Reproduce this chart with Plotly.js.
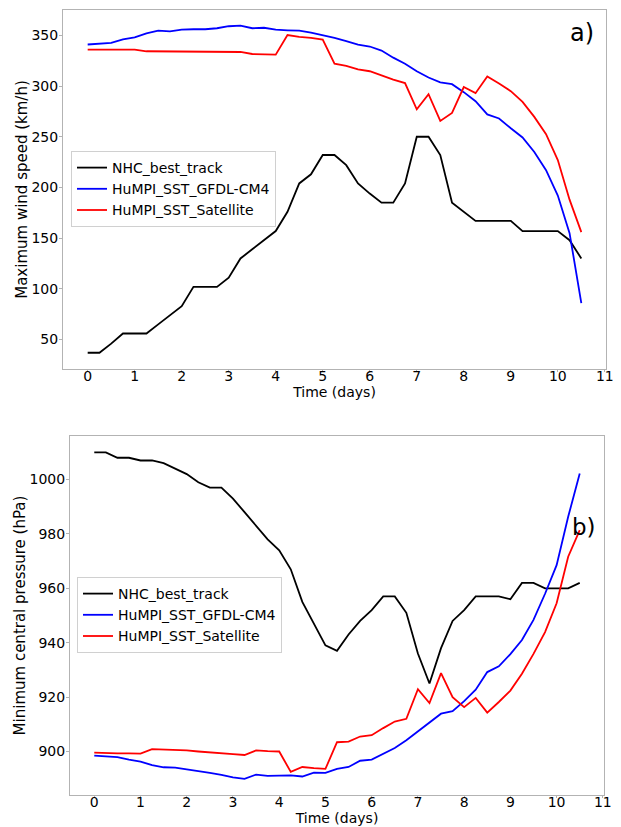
<!DOCTYPE html>
<html>
<head>
<meta charset="utf-8">
<script src="https://cdn.plot.ly/plotly-3.0.1.min.js"></script>
<style>
  html, body { margin: 0; padding: 0; background: #fff; }
  #chart { width: 621px; height: 827px; }
</style>
</head>
<body>
<div id="chart"></div>
<script>
// Forecast time, days since start (6-hourly)
const timeDays = [0, 0.25, 0.5, 0.75, 1, 1.25, 1.5, 1.75, 2, 2.25, 2.5, 2.75, 3, 3.25, 3.5, 3.75,
  4, 4.25, 4.5, 4.75, 5, 5.25, 5.5, 5.75, 6, 6.25, 6.5, 6.75, 7, 7.25, 7.5, 7.75,
  8, 8.25, 8.5, 8.75, 9, 9.25, 9.5, 9.75, 10, 10.25, 10.5];

// Maximum wind speed (km/h)
const windNHC = [37, 37, 46, 56, 56, 56, 65, 74, 83, 102, 102, 102, 111, 130, 139, 148,
  157, 176, 204, 213, 232, 232, 222, 204, 194, 185, 185, 204, 250, 250, 232, 185,
  176, 167, 167, 167, 167, 157, 157, 157, 157, 148, 130];
const windGFDL = [341, 341.5, 342.5, 346, 348, 352, 354.6, 354, 355.6, 356, 356, 357, 359, 359.5, 357, 357.5,
  355.6, 355, 354.6, 352.6, 350.3, 347.5, 344.4, 340.8, 339, 335, 328, 322, 314.6, 308.4, 303.7, 301.8,
  294, 285, 272, 268, 258.4, 249.3, 235, 217, 192, 155, 86];
const windSat = [336, 336, 336, 336, 336, 334.3, 334.2, 334.2, 334.1, 334, 334, 334, 333.9, 333.6, 331.6, 331.4,
  331, 350.3, 348.4, 347.5, 345.8, 322, 320, 316.5, 314.6, 310.6, 306.4, 303, 277, 292, 265.6, 273.5,
  299, 293, 309.4, 302.5, 295, 284.4, 269.6, 252.6, 227, 188, 156];

// Minimum central pressure (hPa)
const presNHC = [1010, 1010, 1008, 1008, 1007, 1007, 1006, 1004, 1002, 999, 997, 997, 993, 988, 983, 978,
  974, 967, 955, 947, 939, 937, 943, 948, 952, 957, 957, 951, 936, 925, 938, 948,
  952, 957, 957, 957, 956, 962, 962, 960, 960, 960, 962];
const presGFDL = [898.5, 898.2, 897.9, 897, 896.3, 895, 894.2, 894.1, 893.5, 892.7, 892.1, 891.4, 890.5, 889.9, 891.5, 891,
  891.2, 891.2, 890.8, 892.2, 892.1, 893.6, 894.3, 896.6, 897, 899.1, 901.3, 904.1, 907.4, 910.9, 913.9, 914.8,
  918.5, 922.7, 929.2, 931.3, 935.8, 941, 948.4, 958, 968.5, 986.3, 1002.2];
const presSat = [899.6, 899.4, 899.3, 899.3, 899.2, 900.9, 900.8, 900.7, 900.4, 900.0, 899.6, 899.3, 899.0, 898.7, 900.4, 900.1,
  900.0, 892.5, 894.3, 893.9, 893.6, 903.4, 903.6, 905.5, 906.0, 908.6, 911.0, 912.0, 922.9, 917.8, 928.8, 920.0,
  916.3, 919.7, 914.3, 918.2, 922.4, 928.6, 935.9, 943.9, 954.5, 971.6, 981.4];

const seriesNames = ['NHC_best_track', 'HuMPI_SST_GFDL-CM4', 'HuMPI_SST_Satellite'];
const seriesColors = ['#000000', '#0000ff', '#ff0000'];
const xTicks = [0, 1, 2, 3, 4, 5, 6, 7, 8, 9, 10, 11];
const windTicks = [50, 100, 150, 200, 250, 300, 350];
const presTicks = [900, 920, 940, 960, 980, 1000];

const FONT = 'DejaVu Sans, sans-serif';
const W = 621, H = 827;

function line(y, i, xa, ya, legend) {
  return {
    x: timeDays, y: y, type: 'scatter', mode: 'lines',
    name: seriesNames[i], xaxis: xa, yaxis: ya, legend: legend,
    line: { color: seriesColors[i], width: 1.8 }
  };
}

const traces = [
  line(windNHC, 0, 'x', 'y', 'legend'),
  line(windGFDL, 1, 'x', 'y', 'legend'),
  line(windSat, 2, 'x', 'y', 'legend'),
  line(presNHC, 0, 'x2', 'y2', 'legend2'),
  line(presGFDL, 1, 'x2', 'y2', 'legend2'),
  line(presSat, 2, 'x2', 'y2', 'legend2')
];

function axisBase() {
  return {
    showgrid: false, zeroline: false,
    showline: true, mirror: true, linecolor: '#b3b3b3', linewidth: 1,
    ticks: 'outside', ticklen: 3, tickcolor: '#b3b3b3', tickwidth: 1,
    tickfont: { family: FONT, size: 14, color: '#000' },
    automargin: false
  };
}

function xAxis(domain, anchor) {
  return Object.assign(axisBase(), {
    domain: domain, anchor: anchor, ticklen: 2,
    range: [-0.525, 11.025], tickvals: xTicks, ticklabelstandoff: -8,
    title: { text: 'Time (days)', font: { family: FONT, size: 14, color: '#000' }, standoff: 3 }
  });
}

const legendStyle = {
  bgcolor: 'rgba(255,255,255,0.8)', bordercolor: '#d0d0d0', borderwidth: 1,
  font: { family: FONT, size: 14, color: '#000' },
  xanchor: 'left', yanchor: 'top', tracegroupgap: 0
};

const layout = {
  width: W, height: H,
  margin: { l: 0, r: 0, t: 0, b: 0 },
  paper_bgcolor: '#fff', plot_bgcolor: '#fff',
  showlegend: true,
  xaxis: xAxis([63 / W, 606 / W], 'y'),
  yaxis: Object.assign(axisBase(), {
    domain: [1 - 369 / H, 1 - 10 / H], anchor: 'x',
    range: [21, 375], tickvals: windTicks, ticklabelstandoff: -2,
    title: { text: 'Maximum wind speed (km/h)', font: { family: FONT, size: 15, color: '#000' }, standoff: 0 }
  }),
  xaxis2: xAxis([70 / W, 604 / W], 'y2'),
  yaxis2: Object.assign(axisBase(), {
    domain: [1 - 795 / H, 1 - 436 / H], anchor: 'x2',
    range: [884, 1016], tickvals: presTicks, ticklabelstandoff: -2,
    title: { text: 'Minimum central pressure (hPa)', font: { family: FONT, size: 15, color: '#000' }, standoff: 0 }
  }),
  legend: Object.assign({}, legendStyle, { x: 71 / W, y: 1 - 151 / H }),
  legend2: Object.assign({}, legendStyle, { x: 77 / W, y: 1 - 577 / H }),
  annotations: [
    { text: 'a)', xref: 'paper', yref: 'paper', x: 596 / W, y: 1 - 33 / H,
      xanchor: 'right', yanchor: 'middle', showarrow: false,
      font: { family: FONT, size: 24, color: '#000' } },
    { text: 'b)', xref: 'paper', yref: 'paper', x: 598 / W, y: 1 - 527 / H,
      xanchor: 'right', yanchor: 'middle', showarrow: false,
      font: { family: FONT, size: 23, color: '#000' } }
  ]
};

Plotly.newPlot('chart', traces, layout, { displayModeBar: false, staticPlot: true });
</script>
</body>
</html>
